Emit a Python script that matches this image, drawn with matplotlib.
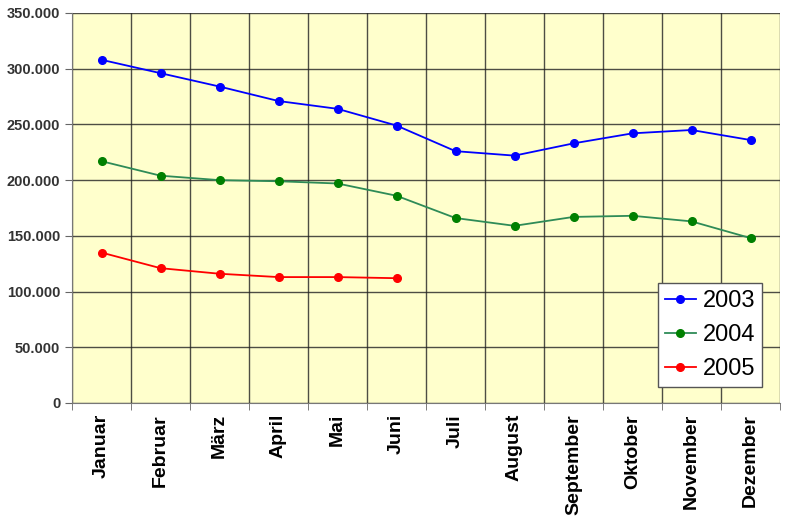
import numpy as np
import matplotlib
matplotlib.use("Agg")
import matplotlib.pyplot as plt
from matplotlib.ticker import FuncFormatter, FixedLocator

plt.rcParams["font.family"] = ["Liberation Sans", "DejaVu Sans"]

months = ["Januar", "Februar", "März", "April", "Mai", "Juni", "Juli",
          "August", "September", "Oktober", "November", "Dezember"]
v2003 = [308000, 296000, 284000, 271000, 264000, 249000, 226000,
         222000, 233000, 242000, 245000, 236000]
v2004 = [217000, 204000, 200000, 199000, 197000, 186000, 166000,
         159000, 167000, 168000, 163000, 148000]
v2005 = [135000, 121000, 116000, 113000, 113000, 112000]

fig = plt.figure(figsize=(7.85, 5.22), dpi=100)
ax = fig.add_axes([72 / 785, 119 / 522, 708 / 785, 390 / 522])
ax.set_facecolor("#FFFFCC")

x = np.arange(len(months))
ax.plot(x, v2003, color="#0000FF", marker="o", markersize=5.5, lw=1.3, label="2003")
ax.plot(x, v2004, color="#2E8B57", marker="o", markersize=5.5, lw=1.3,
        markerfacecolor="#008000", markeredgecolor="#008000", label="2004")
ax.plot(x[:len(v2005)], v2005, color="#FF0000", marker="o", markersize=5.5, lw=1.3,
        label="2005")

ax.set_xlim(-0.5, len(months) - 0.5)
ax.set_ylim(0, 350000)
ax.set_yticks(np.arange(0, 350001, 50000))
ax.yaxis.set_major_formatter(FuncFormatter(lambda v, p: f"{int(v):,}".replace(",", ".")))
ax.set_xticks(x)
ax.set_xticklabels(months, rotation=90, fontweight="bold", fontsize=14)
ax.xaxis.set_minor_locator(FixedLocator(np.arange(-0.5, len(months), 1)))
ax.tick_params(axis="x", which="major", length=0, pad=8)
ax.tick_params(axis="x", which="minor", length=5, color="#666666")
ax.tick_params(axis="y", length=5, color="#666666", labelsize=10.5)
for lab in ax.get_yticklabels():
    lab.set_fontweight("bold")
    lab.set_color("#333333")

ax.grid(True, axis="y", which="major", color="#222222", lw=1, alpha=0.8)
ax.grid(True, axis="x", which="minor", color="#222222", lw=1, alpha=0.8)
ax.set_axisbelow(True)
for s in ["top", "right"]:
    ax.spines[s].set_visible(False)
for s in ["left", "bottom"]:
    ax.spines[s].set_color("#777777")

leg = ax.legend(loc="lower right", bbox_to_anchor=(0.975, 0.041), fontsize=17,
                frameon=True, fancybox=False, edgecolor="#555555",
                handlelength=1.3, handletextpad=0.3, borderpad=0.3,
                labelspacing=0.5, borderaxespad=0)
leg.get_frame().set_facecolor("white")
leg.get_frame().set_alpha(1)

fig.savefig("out.png", dpi=100)
